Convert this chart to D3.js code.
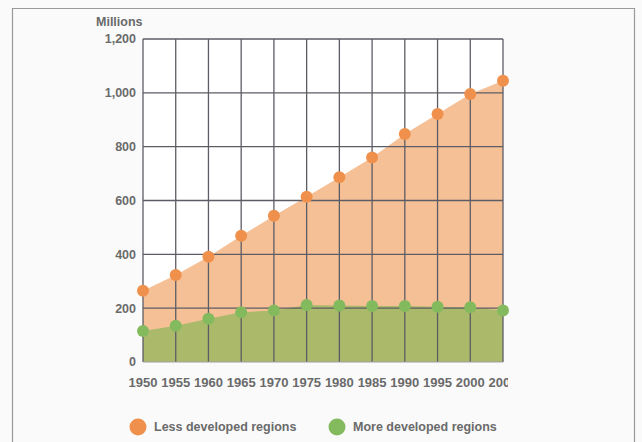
<!DOCTYPE html>
<html>
<head>
<meta charset="utf-8">
<script src="https://cdn.jsdelivr.net/npm/d3@7"></script>
<style>
  html, body { margin: 0; padding: 0; background: #fafafb; }
  svg { display: block; }
  text { font-family: "Liberation Sans", Arial, Helvetica, sans-serif; font-weight: bold; fill: #6a6a6a; }
</style>
</head>
<body>
<svg id="chart" width="642" height="442"></svg>
<script>
// Years along the x axis
const years = [1950, 1955, 1960, 1965, 1970, 1975, 1980, 1985, 1990, 1995, 2000, 2005];
// Population, millions
const lessDeveloped = [265, 323, 391, 469, 543, 614, 686, 760, 847, 921, 996, 1045];
const moreDeveloped = [115, 135, 161, 185, 191, 212, 210, 208, 208, 205, 203, 191];
const yTicks = [0, 200, 400, 600, 800, 1000, 1200];
const seriesNames = ["Less developed regions", "More developed regions"];

const svg = d3.select("#chart");
const W = 642, H = 442;

// Outer frame (open at the bottom)
svg.append("path")
  .attr("d", `M12.5,${H} V8.5 H634.5 V${H}`)
  .attr("fill", "none").attr("stroke", "#9a9a9a").attr("stroke-width", 1.2);

const x = d3.scaleLinear().domain([1950, 2005]).range([143, 503]);
const y = d3.scaleLinear().domain([0, 1200]).range([362, 39]);

// White plot background
svg.append("rect")
  .attr("x", x(1950)).attr("y", y(1200))
  .attr("width", x(2005) - x(1950)).attr("height", y(0) - y(1200))
  .attr("fill", "#ffffff");

const area = d3.area()
  .x((d, i) => x(years[i])).y0(y(0)).y1(d => y(d));

svg.append("path").datum(lessDeveloped)
  .attr("d", area).attr("fill", "#f6c097");
svg.append("path").datum(moreDeveloped)
  .attr("d", area).attr("fill", "#abb96b");

// Grid
const grid = svg.append("g").attr("stroke", "#5c5c64").attr("stroke-width", 1.3);
grid.selectAll("line.v").data(years).join("line")
  .attr("x1", d => x(d)).attr("x2", d => x(d))
  .attr("y1", y(1200)).attr("y2", y(0));
grid.selectAll("line.h").data(yTicks.filter(d => d > 0)).join("line")
  .attr("x1", x(1950)).attr("x2", x(2005))
  .attr("y1", d => y(d)).attr("y2", d => y(d));
svg.append("line")
  .attr("x1", x(1950)).attr("x2", x(2005)).attr("y1", y(0)).attr("y2", y(0))
  .attr("stroke", "#a0a0a0").attr("stroke-width", 1.2);

// Dots
svg.append("g").selectAll("circle").data(lessDeveloped).join("circle")
  .attr("cx", (d, i) => x(years[i])).attr("cy", d => y(d)).attr("r", 6)
  .attr("fill", "#ef914c");
svg.append("g").selectAll("circle").data(moreDeveloped).join("circle")
  .attr("cx", (d, i) => x(years[i])).attr("cy", d => y(d)).attr("r", 6)
  .attr("fill", "#84ba5e");

// Y axis labels
const fmt = d3.format(",");
svg.append("g").selectAll("text").data(yTicks).join("text")
  .attr("x", 136).attr("y", d => y(d)).attr("dy", "0.35em")
  .attr("text-anchor", "end").attr("font-size", 12.5)
  .text(d => fmt(d));
svg.append("text").attr("x", 96).attr("y", 26).attr("font-size", 12.5).text("Millions");

// X axis labels, clipped at the right edge
svg.append("clipPath").attr("id", "xclip")
  .append("rect").attr("x", 0).attr("y", 360).attr("width", 508).attr("height", 40);
svg.append("g").attr("clip-path", "url(#xclip)").selectAll("text").data(years).join("text")
  .attr("x", d => x(d)).attr("y", 387)
  .attr("text-anchor", "middle").attr("font-size", 13)
  .text(d => d);

// Legend
const legendColors = ["#ef914c", "#84ba5e"];
const legendX = [138, 337];
const lg = svg.append("g").selectAll("g").data(seriesNames).join("g")
  .attr("transform", (d, i) => `translate(${legendX[i]},427)`);
lg.append("circle").attr("r", 8.5).attr("fill", (d, i) => legendColors[i]);
lg.append("text").attr("x", 16).attr("dy", "0.35em").attr("font-size", 12.5).text(d => d);
</script>
</body>
</html>
